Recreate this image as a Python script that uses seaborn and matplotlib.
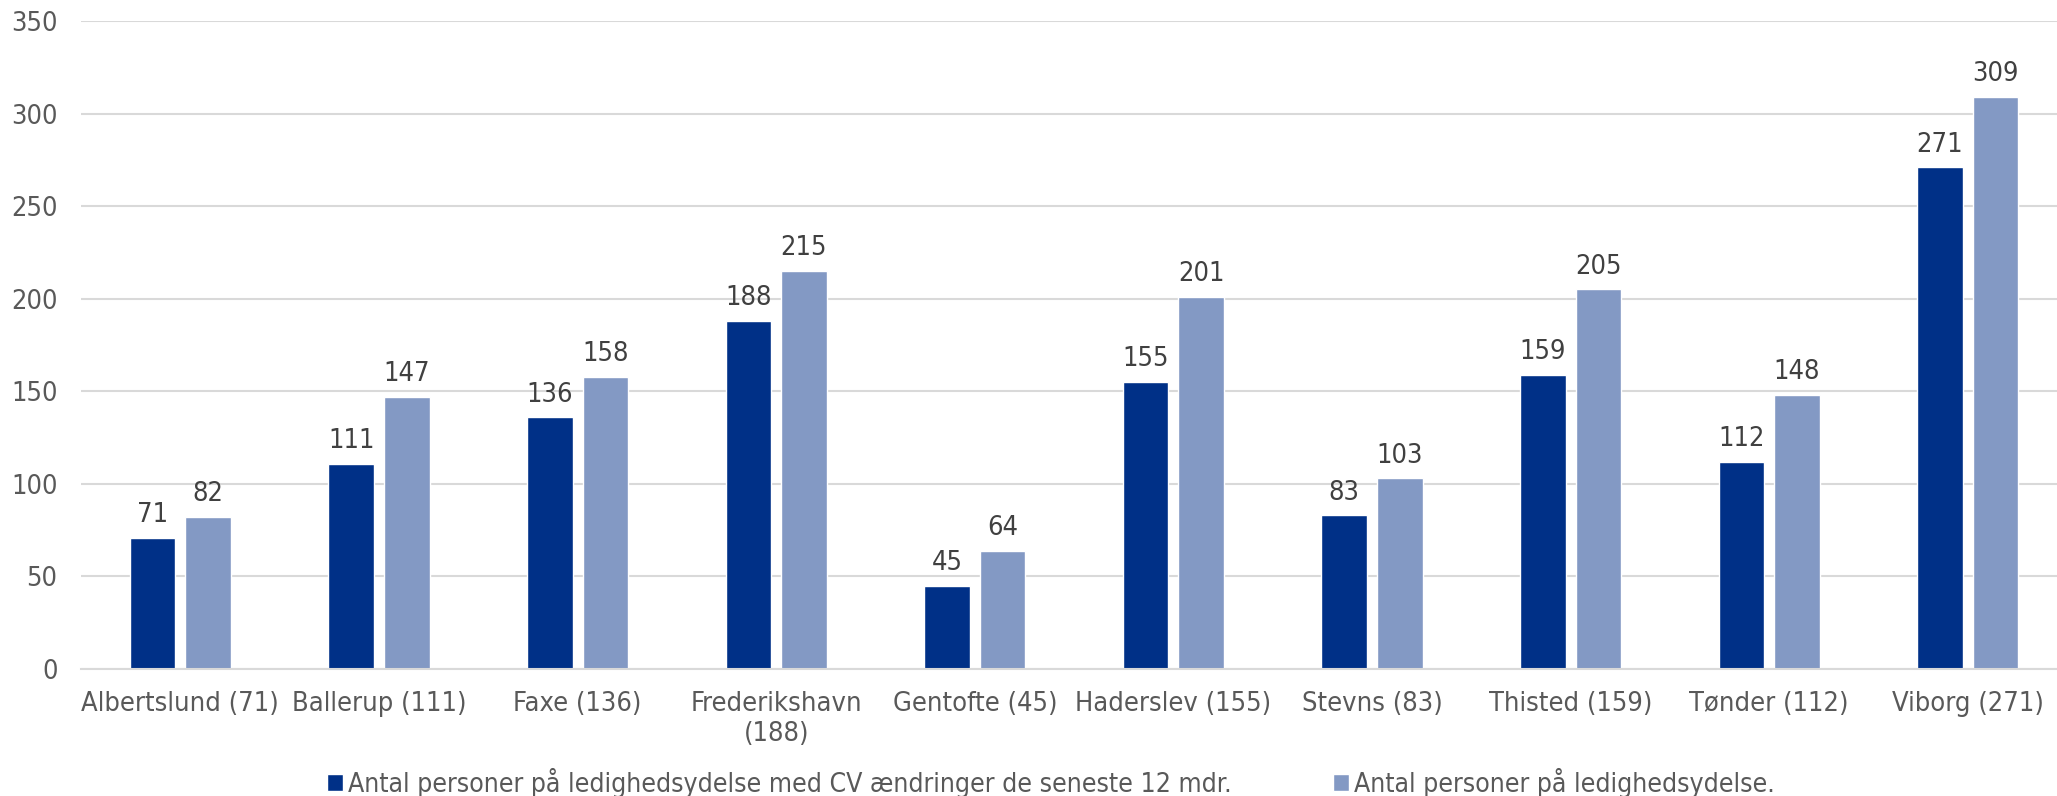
import numpy as np
import pandas as pd
import seaborn as sns
import matplotlib
matplotlib.use("Agg")
import matplotlib.pyplot as plt

# =========================================================
# Data
# =========================================================
kommuner = ["Albertslund (71)", "Ballerup (111)", "Faxe (136)", "Frederikshavn\n(188)",
            "Gentofte (45)", "Haderslev (155)", "Stevns (83)", "Thisted (159)",
            "Tønder (112)", "Viborg (271)"]
cv_aendringer = [71, 111, 136, 188, 45, 155, 83, 159, 112, 271]
ledighedsydelse = [82, 147, 158, 215, 64, 201, 103, 205, 148, 309]

serie_navne = ["Antal personer på ledighedsydelse med CV ændringer de seneste 12 mdr.",
               "Antal personer på ledighedsydelse."]
farver = ["#003087", "#8399C4"]

df = pd.DataFrame({
    "Kommune": kommuner * 2,
    "Antal": cv_aendringer + ledighedsydelse,
    "Serie": [serie_navne[0]] * len(kommuner) + [serie_navne[1]] * len(kommuner),
})

# =========================================================
# Plot
# =========================================================
sns.set_style("white")
plt.rcParams["font.family"] = ["DejaVu Sans"]
plt.rcParams["font.stretch"] = "condensed"   # closer to the narrow Office font
tekst_farve = "#595959"

fig = plt.figure(figsize=(20.57, 7.96), dpi=100)
ax = fig.add_axes([0.0394, 0.1595, 0.9606, 0.8141])

sns.barplot(data=df, x="Kommune", y="Antal", hue="Serie", palette=farver,
            width=0.56, gap=0.18, ax=ax, legend=True, saturation=1)

for cont in ax.containers:
    ax.bar_label(cont, padding=7, fontsize=19.5, color="#404040")

ax.set_ylim(0, 350)
ax.set_xlim(-0.5, 9.449)
ax.set_yticks(np.arange(0, 351, 50))
ax.yaxis.grid(True, color="#d9d9d9", linewidth=1.5)
ax.set_axisbelow(True)
for side in ["top", "right", "left"]:
    ax.spines[side].set_visible(False)
ax.spines["bottom"].set_color("#d9d9d9")
ax.spines["bottom"].set_linewidth(1.5)
ax.tick_params(axis="y", length=0, labelsize=19.5, labelcolor=tekst_farve, pad=17)
ax.tick_params(axis="x", length=0, labelsize=19.5, labelcolor=tekst_farve, pad=16)
ax.set_xlabel("")
ax.set_ylabel("")

handles, labels = ax.get_legend_handles_labels()
ax.get_legend().remove()
fig.legend(handles, labels, loc="center", bbox_to_anchor=(0.511, 0.0163), ncol=2,
           frameon=False, fontsize=19.1, labelcolor=tekst_farve, borderpad=0,
           handlelength=0.6, handleheight=0.6, handletextpad=0.2, columnspacing=3.8)

fig.savefig("out.png", dpi=100)
